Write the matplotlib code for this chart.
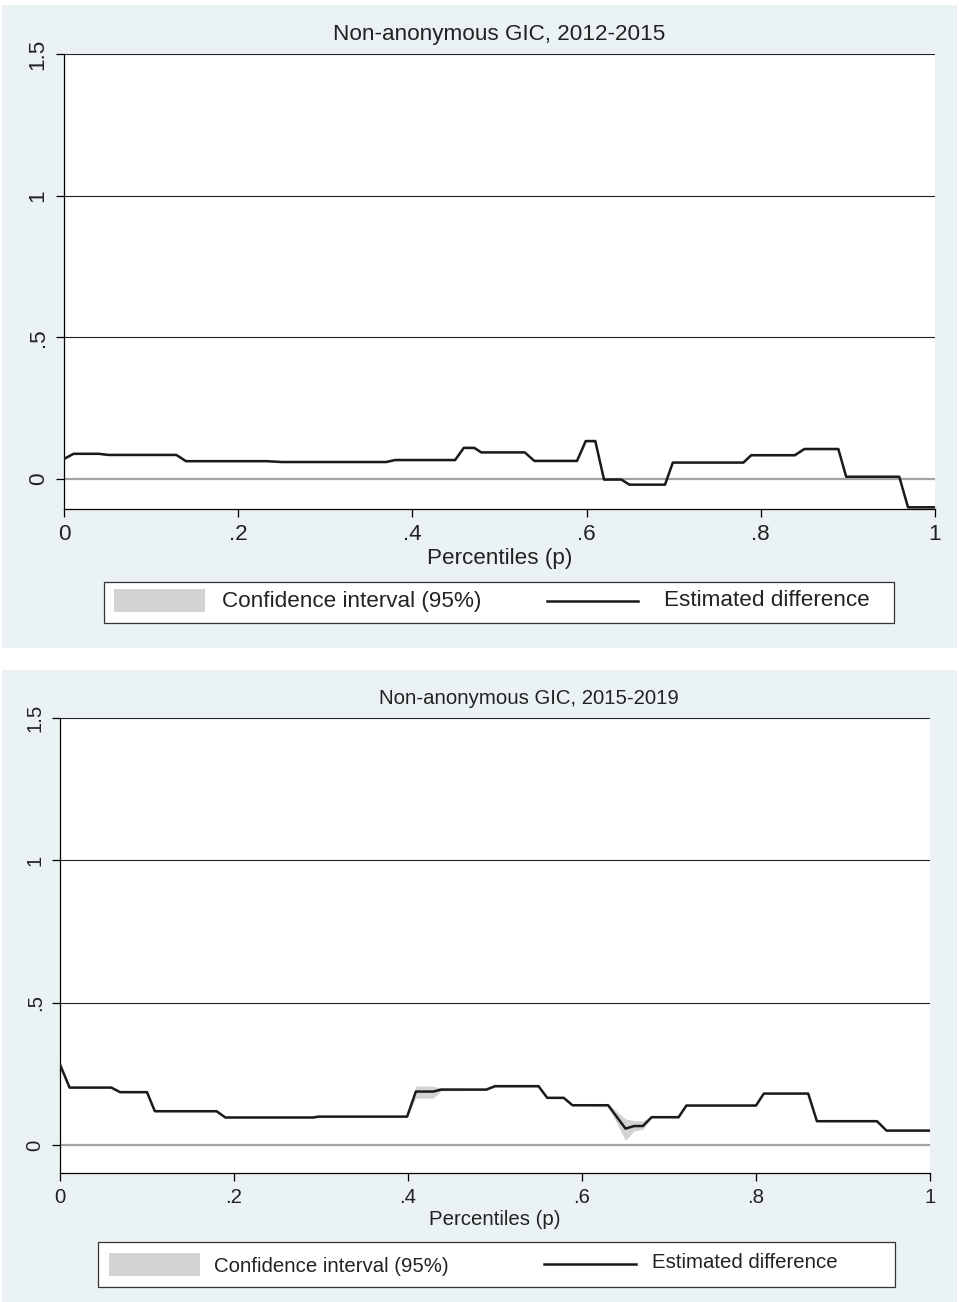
import matplotlib
matplotlib.use('Agg')
import matplotlib.pyplot as plt
from matplotlib.patches import Rectangle
from matplotlib.lines import Line2D

plt.rcParams['font.family'] = ['Liberation Sans', 'DejaVu Sans']

W, H = 959, 1302

# top panel: 2012-2015
p_top = [0, .011, .040, .051, .129, .140, .233, .250, .370, .380, .449, .459, .471,
         .479, .529, .540, .589, .599, .610, .620, .640, .649, .690, .699, .780, .789,
         .839, .850, .889, .898, .959, .969, 1.0]
est_top = [.070, .088, .088, .084, .084, .062, .062, .059, .059, .066, .066, .109, .109,
           .093, .093, .063, .063, .133, .133, -.003, -.003, -.021, -.021, .057, .057, .083,
           .083, .105, .105, .007, .007, -.101, -.101]
hi_top = [.073, .091, .091, .087, .087, .065, .065, .062, .062, .069, .069, .113, .113,
          .096, .096, .068, .068, .137, .137, .000, .000, -.018, -.018, .060, .060, .087,
          .087, .110, .110, .010, .010, -.098, -.098]
lo_top = [.067, .085, .085, .081, .081, .059, .059, .056, .056, .063, .063, .105, .105,
          .090, .090, .059, .059, .128, .128, -.006, -.006, -.024, -.024, .054, .054, .079,
          .079, .101, .101, .004, .004, -.104, -.104]

# bottom panel: 2015-2019
p_bot = [0, .011, .059, .069, .100, .109, .180, .190, .291, .297, .399, .409, .429, .438,
         .490, .500, .550, .560, .579, .589, .630, .650, .660, .670, .680, .711, .720, .800,
         .809, .860, .870, .939, .950, 1.0]
est_bot = [.283, .202, .202, .186, .186, .119, .119, .097, .097, .100, .100, .188, .188, .195,
           .195, .207, .207, .166, .166, .140, .140, .058, .067, .067, .098, .098, .139, .139,
           .181, .181, .084, .084, .051, .051]
hi_bot = [.286, .205, .205, .189, .189, .122, .122, .100, .100, .103, .103, .207, .207, .200,
          .198, .211, .211, .169, .169, .143, .145, .092, .086, .086, .101, .101, .142, .142,
          .184, .184, .087, .087, .054, .054]
lo_bot = [.280, .199, .199, .183, .183, .116, .116, .094, .094, .097, .097, .165, .165, .190,
          .192, .203, .203, .163, .163, .137, .135, .017, .050, .055, .095, .095, .136, .136,
          .178, .178, .081, .081, .048, .048]

xticks = [0, .2, .4, .6, .8, 1]
xticklabels = ['0', '.2', '.4', '.6', '.8', '1']
yticks = [0, .5, 1, 1.5]
yticklabels = ['0', '.5', '1', '1.5']

BG = '#eaf2f4'
CI = '#d3d3d3'
TXT = '#222222'


def fx(x):
    return x / W


def fy(y):
    return 1 - y / H


fig = plt.figure(figsize=(W / 100, H / 100), dpi=100)

# panel backgrounds
for y0, y1 in [(5, 648), (670, 1302)]:
    fig.add_artist(Rectangle((fx(2), fy(y1)), fx(957) - fx(2), fy(y0) - fy(y1),
                             transform=fig.transFigure, facecolor=BG, edgecolor='none', zorder=0))


def draw_panel(box, p, est, lo, hi, ymin, title, title_x, fs):
    l, t, r, b = box
    ax = fig.add_axes([fx(l), fy(b), fx(r) - fx(l), fy(t) - fy(b)])
    ax.set_facecolor('white')
    ax.fill_between(p, lo, hi, color=CI, linewidth=0, zorder=2)
    for yv in [.5, 1, 1.5]:
        ax.axhline(yv, color='#222222', lw=0.8, zorder=1)
    ax.axhline(0, color='#a3a3a3', lw=1.6, zorder=1)
    ax.plot(p, est, color='#1a1a1a', lw=1.8, zorder=3)
    ax.set_xlim(0, 1)
    ax.set_ylim(ymin, 1.5)
    for s in ['top', 'right']:
        ax.spines[s].set_visible(False)
    for s in ['left', 'bottom']:
        ax.spines[s].set_linewidth(0.9)
    ax.set_xticks(xticks)
    ax.set_xticklabels(xticklabels, fontsize=fs, color=TXT)
    ax.set_yticks(yticks)
    ax.set_yticklabels(yticklabels, fontsize=fs, rotation=90, va='center', color=TXT)
    ax.tick_params(direction='out', length=6, width=0.9, pad=5)
    ax.set_xlabel('Percentiles (p)', fontsize=fs, labelpad=2, color=TXT)
    ax.set_title(title, fontsize=fs, pad=10, x=title_x, color=TXT)
    return ax


def draw_legend(box, patch, line, t1, t2, fs):
    l, t, r, b = box
    fig.add_artist(Rectangle((fx(l), fy(b)), fx(r) - fx(l), fy(t) - fy(b), transform=fig.transFigure,
                             facecolor='white', edgecolor='#333333', lw=0.9, zorder=5))
    px0, py0, px1, py1 = patch
    fig.add_artist(Rectangle((fx(px0), fy(py1)), fx(px1) - fx(px0), fy(py0) - fy(py1),
                             transform=fig.transFigure, facecolor=CI, edgecolor='none', zorder=6))
    lx0, lx1, ly = line
    fig.add_artist(Line2D([fx(lx0), fx(lx1)], [fy(ly), fy(ly)], transform=fig.transFigure,
                          color='#1a1a1a', lw=1.8, zorder=6))
    fig.text(fx(t1[0]), fy(t1[1]), 'Confidence interval (95%)', fontsize=fs, va='center',
             color=TXT, zorder=7)
    fig.text(fx(t2[0]), fy(t2[1]), 'Estimated difference', fontsize=fs, va='center',
             color=TXT, zorder=7)


draw_panel((64, 54, 935, 509), p_top, est_top, lo_top, hi_top, -0.107,
           'Non-anonymous GIC, 2012-2015', 0.5, 16.2)
draw_legend((104, 582, 894, 623), (114, 589, 205, 612), (547, 638, 601),
            (222, 601), (664, 601), 16.2)

draw_panel((60, 718, 930, 1173), p_bot, est_bot, lo_bot, hi_bot, -0.098,
           'Non-anonymous GIC, 2015-2019', 0.539, 14.7)
draw_legend((98, 1242, 895, 1287), (109, 1253, 200, 1276), (544, 636, 1264),
            (214, 1266), (652, 1263), 14.7)

fig.savefig('out.png', dpi=100, facecolor='white')
